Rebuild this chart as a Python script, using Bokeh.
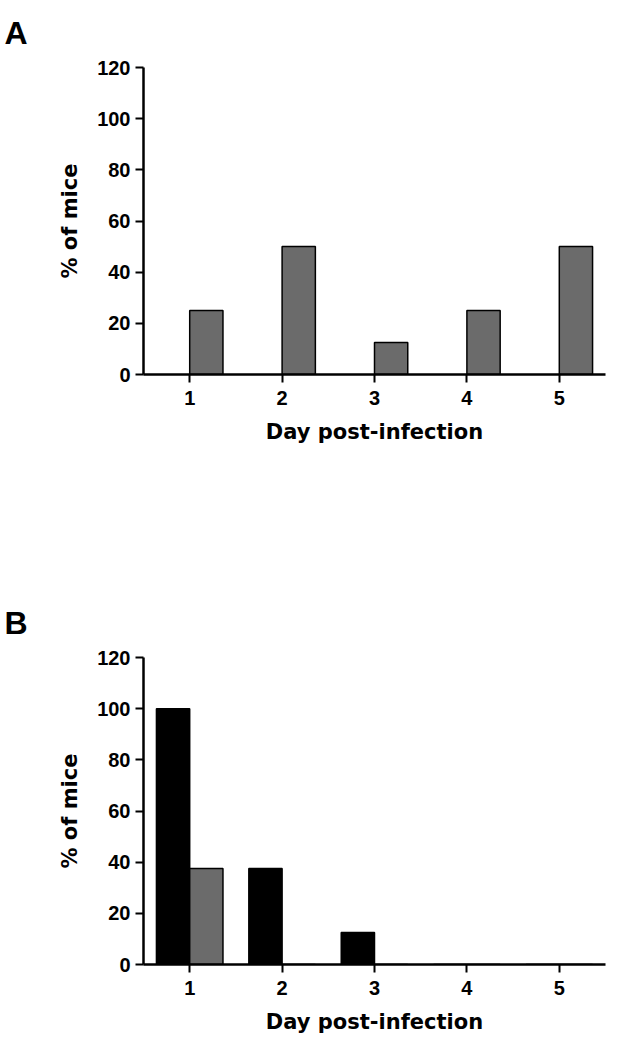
from bokeh.plotting import figure
from bokeh.models import Range1d, FixedTicker, ColumnDataSource
from bokeh.transform import dodge
from bokeh.layouts import column
from bokeh.embed import file_html
from bokeh.resources import INLINE

days = [1, 2, 3, 4, 5]
a_values = [25, 50, 12.5, 25, 50]
b_black = [100, 37.5, 12.5, 0, 0]
b_gray = [37.5, 0, 0, 0, 0]
y_ticks = [0, 20, 40, 60, 80, 100, 120]
x_label = "Day post-infection"
y_label = "% of mice"

GRAY = "#6b6b6b"
TICK_FONT = "Liberation Sans"
LABEL_FONT = "DejaVu Sans"


def make_fig(height, top, bottom, letter):
    p = figure(width=619, height=height, output_backend="svg", toolbar_location=None,
               x_range=Range1d(0.5, 5.5), y_range=Range1d(0, 120),
               min_border_left=143, min_border_right=14,
               min_border_top=top, min_border_bottom=bottom,
               title=letter, title_location="above")
    p.title.align = "left"
    p.title.vertical_align = "top"
    p.title.offset = -139
    p.title.standoff = 29
    p.title.text_font = TICK_FONT
    p.title.text_font_style = "bold"
    p.title.text_font_size = "32px"
    p.title.text_color = "black"
    p.outline_line_color = None
    p.xgrid.grid_line_color = None
    p.ygrid.grid_line_color = None
    p.background_fill_color = "white"
    p.border_fill_color = "white"
    p.xaxis.ticker = FixedTicker(ticks=days)
    p.yaxis.ticker = FixedTicker(ticks=y_ticks)
    for ax in (p.xaxis, p.yaxis):
        ax.axis_line_width = 2.5
        ax.axis_line_color = "black"
        ax.major_tick_line_width = 2
        ax.major_tick_line_color = "black"
        ax.major_tick_out = 8
        ax.major_tick_in = 0
        ax.minor_tick_line_color = None
        ax.major_label_text_font = TICK_FONT
        ax.major_label_text_font_style = "bold"
        ax.major_label_text_font_size = "20px"
        ax.major_label_text_color = "black"
        ax.axis_label_text_font = LABEL_FONT
        ax.axis_label_text_font_style = "bold"
        ax.axis_label_text_font_size = "21px"
        ax.axis_label_text_color = "black"
    p.xaxis.major_label_standoff = 8
    p.yaxis.major_label_standoff = 5
    p.xaxis.axis_label = x_label
    p.yaxis.axis_label = y_label
    p.xaxis.axis_label_standoff = 12
    p.yaxis.axis_label_standoff = 12
    return p


pA = make_fig(590, 67, 216, "A")
srcA = ColumnDataSource(dict(day=days, val=a_values))
pA.vbar(x=dodge("day", 0.18, range=pA.x_range), top="val", width=0.36, source=srcA,
        fill_color=GRAY, line_color="black", line_width=1.5)

pB = make_fig(455, 67, 81, "B")
srcB = ColumnDataSource(dict(day=days, black=b_black, gray=b_gray))
pB.vbar(x=dodge("day", -0.18, range=pB.x_range), top="black", width=0.36, source=srcB,
        fill_color="black", line_color="black", line_width=1.5)
pB.vbar(x=dodge("day", 0.18, range=pB.x_range), top="gray", width=0.36, source=srcB,
        fill_color=GRAY, line_color="black", line_width=1.5)

layout = column(pA, pB, spacing=0)
open("out.html", "w").write(file_html(layout, INLINE))
